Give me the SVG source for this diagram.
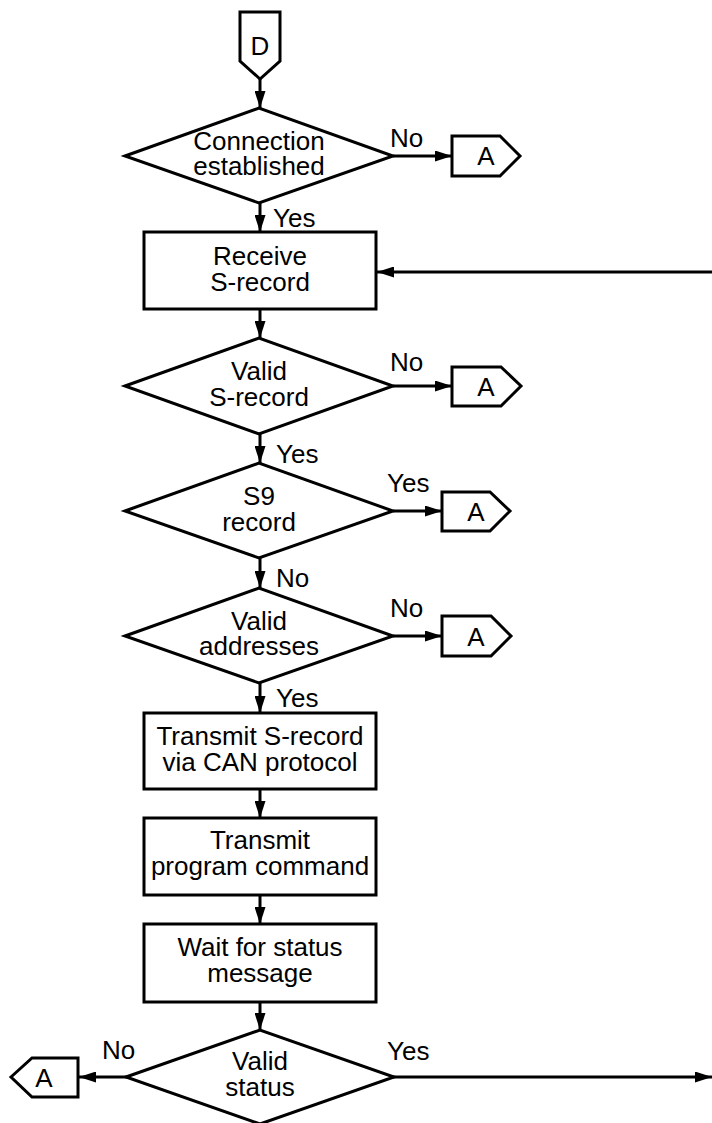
<svg xmlns="http://www.w3.org/2000/svg" width="712" height="1123" viewBox="0 0 712 1123">
<style>
.s{fill:#fff;stroke:#000;stroke-width:3}
.t{font-family:"Liberation Sans",Arial,sans-serif;font-size:26px;fill:#000;text-anchor:middle}
.l{font-family:"Liberation Sans",Arial,sans-serif;font-size:26px;fill:#000}
.c{fill:none;stroke:#000;stroke-width:3}
</style>
<defs>
<marker id="ah" markerUnits="userSpaceOnUse" markerWidth="17" markerHeight="11" refX="17" refY="5.5" orient="auto">
<path d="M0,0 L17,5.5 L0,11 z" fill="#000"/>
</marker>
</defs>
<rect width="712" height="1123" fill="#fff"/>
<g id="connectors">
<line class="c" x1="260" y1="79" x2="260" y2="108" marker-end="url(#ah)"/>
<line class="c" x1="393" y1="156" x2="452" y2="156" marker-end="url(#ah)"/>
<line class="c" x1="260" y1="203" x2="260" y2="232" marker-end="url(#ah)"/>
<line class="c" x1="712" y1="272" x2="377" y2="272" marker-end="url(#ah)"/>
<line class="c" x1="260" y1="309" x2="260" y2="338" marker-end="url(#ah)"/>
<line class="c" x1="393" y1="386" x2="452" y2="386" marker-end="url(#ah)"/>
<line class="c" x1="260" y1="434" x2="260" y2="463" marker-end="url(#ah)"/>
<line class="c" x1="393" y1="511" x2="442" y2="511" marker-end="url(#ah)"/>
<line class="c" x1="260" y1="558" x2="260" y2="588" marker-end="url(#ah)"/>
<line class="c" x1="393" y1="636" x2="442" y2="636" marker-end="url(#ah)"/>
<line class="c" x1="260" y1="683" x2="260" y2="713" marker-end="url(#ah)"/>
<line class="c" x1="260" y1="789" x2="260" y2="818" marker-end="url(#ah)"/>
<line class="c" x1="260" y1="895" x2="260" y2="924" marker-end="url(#ah)"/>
<line class="c" x1="260" y1="1002" x2="260" y2="1030" marker-end="url(#ah)"/>
<line class="c" x1="127" y1="1077" x2="79" y2="1077" marker-end="url(#ah)"/>
<line class="c" x1="393" y1="1077" x2="712" y2="1077" marker-end="url(#ah)"/>
<text class="l" x="390" y="147">No</text>
<text class="l" x="273" y="227">Yes</text>
<text class="l" x="390" y="371">No</text>
<text class="l" x="276" y="463">Yes</text>
<text class="l" x="387" y="492">Yes</text>
<text class="l" x="276" y="587">No</text>
<text class="l" x="390" y="617">No</text>
<text class="l" x="276" y="707">Yes</text>
<text class="l" x="102" y="1059">No</text>
<text class="l" x="387" y="1060">Yes</text>
</g>
<g id="D">
<polygon class="s" points="240,12 280,12 280,61 260,79 240,61"/>
<text class="t" x="260" y="55">D</text>
</g>
<g id="d1">
<polygon class="s" points="125,156 259,108 393,156 259,203"/>
<text class="t" x="259" y="150">Connection</text>
<text class="t" x="259" y="175">established</text>
</g>
<g id="a1">
<polygon class="s" points="452,136 500,136 520,156 500,176 452,176"/>
<text class="t" x="486" y="165">A</text>
</g>
<g id="r1">
<rect class="s" x="144" y="232" width="232" height="77"/>
<text class="t" x="260" y="265">Receive</text>
<text class="t" x="260" y="291">S-record</text>
</g>
<g id="d2">
<polygon class="s" points="125,386 259,338 393,386 259,434"/>
<text class="t" x="259" y="380">Valid</text>
<text class="t" x="259" y="406">S-record</text>
</g>
<g id="a2">
<polygon class="s" points="452,367 501,367 521,386 501,406 452,406"/>
<text class="t" x="486" y="396">A</text>
</g>
<g id="d3">
<polygon class="s" points="125,511 259,463 393,511 259,558"/>
<text class="t" x="259" y="505">S9</text>
<text class="t" x="259" y="531">record</text>
</g>
<g id="a3">
<polygon class="s" points="442,492 490,492 510,511 490,531 442,531"/>
<text class="t" x="476" y="521">A</text>
</g>
<g id="d4">
<polygon class="s" points="125,636 259,588 393,636 259,683"/>
<text class="t" x="259" y="630">Valid</text>
<text class="t" x="259" y="655">addresses</text>
</g>
<g id="a4">
<polygon class="s" points="442,616 491,616 511,636 491,656 442,656"/>
<text class="t" x="476" y="646">A</text>
</g>
<g id="r5">
<rect class="s" x="144" y="713" width="232" height="76"/>
<text class="t" x="260" y="745">Transmit S-record</text>
<text class="t" x="260" y="771">via CAN protocol</text>
</g>
<g id="r6">
<rect class="s" x="144" y="818" width="232" height="77"/>
<text class="t" x="260" y="849">Transmit</text>
<text class="t" x="260" y="875">program command</text>
</g>
<g id="r7">
<rect class="s" x="144" y="924" width="232" height="78"/>
<text class="t" x="260" y="956">Wait for status</text>
<text class="t" x="260" y="982">message</text>
</g>
<g id="d8">
<polygon class="s" points="126,1077 260,1030 394,1077 260,1124"/>
<text class="t" x="260" y="1070">Valid</text>
<text class="t" x="260" y="1096">status</text>
</g>
<g id="a5">
<polygon class="s" points="11,1077 32,1058 78,1058 78,1097 32,1097"/>
<text class="t" x="44" y="1087">A</text>
</g>
</svg>
